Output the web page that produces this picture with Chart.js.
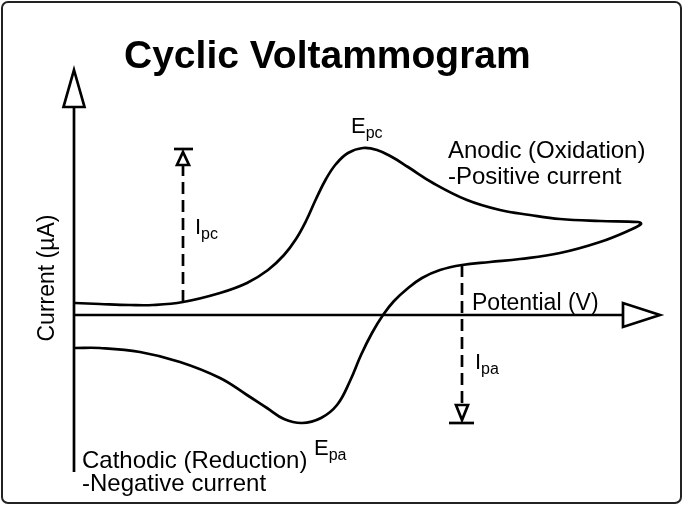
<!DOCTYPE html>
<html lang="en">
<head>
    <meta charset="UTF-8">
    <title>Cyclic Voltammogram</title>
    <style>
        body {
            margin: 0;
            padding: 0;
            background-color: #ffffff;
        }
        canvas {
            display: block;
        }
    </style>
    <script src="https://cdn.jsdelivr.net/npm/chart.js"></script>
</head>
<body>

<canvas id="cvChart" width="685" height="509"></canvas>

<script>
    // Potential (arbitrary units) and current (arbitrary units)
    // forward scan, left to right, then the return scan back to the start
    const potential = [0.1, 2.6, 5.6, 7.9, 10.9, 14.6, 17.3, 19.4, 21.0, 22.2, 23.2, 24.2, 25.2, 26.2, 27.4, 28.9, 30.3, 31.8, 33.4, 35.9, 39.3, 42.6, 45.6, 48.6, 52.6, 56.4, 56.7,
                       55.6, 52.6, 48.6, 44.6, 41.6, 38.8, 36.6, 34.8, 33.3, 32.0, 30.9, 29.8, 28.7, 27.6, 26.3, 24.7, 22.8, 21.0, 19.3, 17.3, 14.6, 10.6, 6.6, 2.6, 0.1];
    const current = [1.2, 1.1, 1.0, 1.0, 1.3, 2.2, 3.2, 4.5, 6.0, 7.6, 9.4, 11.6, 13.6, 15.1, 16.2, 16.7, 16.5, 15.8, 14.8, 13.2, 11.5, 10.5, 10.0, 9.6, 9.4, 9.3, 9.1,
                     8.5, 7.3, 6.2, 5.6, 5.3, 5.0, 4.5, 3.7, 2.6, 1.4, 0, -1.8, -4.0, -6.6, -9.0, -10.3, -10.8, -10.4, -9.3, -8.0, -6.3, -4.7, -3.7, -3.3, -3.3];

    // peak current markers: [potential, start current, end of dashed line]
    const ipcLine = [10.9, 1.3, 15.0];
    const ipaLine = [38.8, 5.0, -9.0];
    const ipcPeak = 16.6;
    const ipaPeak = -10.8;

    const xRange = [0, 58.6];
    const yRange = [-15.7, 24.5];

    const FONT = '"Liberation Sans", Arial, sans-serif';

    const points = potential.map((x, i) => ({ x: x, y: current[i] }));

    function text(ctx, str, x, y, size, weight) {
        ctx.font = (weight || 'normal') + ' ' + size + 'px ' + FONT;
        ctx.fillText(str, x, y);
    }

    function subLabel(ctx, main, sub, x, y) {
        text(ctx, main, x, y, 22);
        const w = ctx.measureText(main).width;
        text(ctx, sub, x + w, y + 5, 16);
    }

    // hollow triangle arrow head
    function arrowHead(ctx, tipX, tipY, baseX, baseY, half) {
        const dx = tipX - baseX, dy = tipY - baseY;
        const len = Math.hypot(dx, dy);
        const nx = -dy / len, ny = dx / len;
        ctx.beginPath();
        ctx.moveTo(tipX, tipY);
        ctx.lineTo(baseX + nx * half, baseY + ny * half);
        ctx.lineTo(baseX - nx * half, baseY - ny * half);
        ctx.closePath();
        ctx.fillStyle = '#fff';
        ctx.fill();
        ctx.stroke();
    }

    const decorPlugin = {
        id: 'decor',
        beforeDatasetsDraw(chart) {
            const ctx = chart.ctx;
            const area = chart.chartArea;
            const xs = chart.scales.x, ys = chart.scales.y;
            const x0 = xs.getPixelForValue(0);
            const y0 = ys.getPixelForValue(0);
            ctx.save();
            ctx.strokeStyle = '#000';
            ctx.lineWidth = 2.7;
            ctx.lineJoin = 'miter';
            // y axis
            ctx.beginPath();
            ctx.moveTo(x0, area.bottom);
            ctx.lineTo(x0, area.top + 37);
            ctx.stroke();
            arrowHead(ctx, x0, area.top, x0, area.top + 37, 10.5);
            // x axis
            ctx.beginPath();
            ctx.moveTo(x0, y0);
            ctx.lineTo(area.right - 37, y0);
            ctx.stroke();
            arrowHead(ctx, area.right, y0, area.right - 37, y0, 12);
            ctx.restore();
        },
        afterDatasetsDraw(chart) {
            const ctx = chart.ctx;
            const xs = chart.scales.x, ys = chart.scales.y;
            ctx.save();
            ctx.strokeStyle = '#000';
            ctx.lineWidth = 2.7;

            // Ipc arrow and cap
            let px = xs.getPixelForValue(ipcLine[0]);
            let capY = ys.getPixelForValue(ipcPeak);
            arrowHead(ctx, px, capY + 3, px, ys.getPixelForValue(ipcLine[2]), 6);
            ctx.beginPath();
            ctx.moveTo(px - 9, capY);
            ctx.lineTo(px + 10, capY);
            ctx.stroke();

            // Ipa arrow and cap
            px = xs.getPixelForValue(ipaLine[0]);
            capY = ys.getPixelForValue(ipaPeak);
            arrowHead(ctx, px, capY - 3, px, ys.getPixelForValue(ipaLine[2]), 6);
            ctx.beginPath();
            ctx.moveTo(px - 13, capY);
            ctx.lineTo(px + 12, capY);
            ctx.stroke();

            // texts
            ctx.fillStyle = '#000';
            ctx.textAlign = 'left';
            ctx.textBaseline = 'alphabetic';
            text(ctx, 'Cyclic Voltammogram', 124, 68, 39, 'bold');
            text(ctx, 'Anodic (Oxidation)', 448, 158, 24);
            text(ctx, '-Positive current', 448, 184, 24);
            text(ctx, 'Potential (V)', 472, 310, 23);
            text(ctx, 'Cathodic (Reduction)', 82, 468, 24);
            text(ctx, '-Negative current', 82, 491, 24);
            subLabel(ctx, 'E', 'pc', 351, 133);
            subLabel(ctx, 'E', 'pa', 314, 455);
            subLabel(ctx, 'I', 'pc', 195, 234);
            subLabel(ctx, 'I', 'pa', 475, 369);

            ctx.save();
            ctx.translate(48, 278);
            ctx.rotate(-Math.PI / 2);
            ctx.textAlign = 'center';
            ctx.textBaseline = 'middle';
            text(ctx, 'Current (\u00b5A)', 0, 0, 23);
            ctx.restore();

            // frame round the picture
            ctx.strokeStyle = '#222';
            ctx.lineWidth = 2;
            ctx.beginPath();
            ctx.roundRect(2, 2, 679, 501, 6);
            ctx.stroke();
            ctx.restore();
        }
    };

    const ctx = document.getElementById('cvChart').getContext('2d');
    const chart = new Chart(ctx, {
        type: 'scatter',
        data: {
            datasets: [{
                label: 'Voltammogram',
                data: points,
                showLine: true,
                borderColor: '#000',
                borderWidth: 2.7,
                pointRadius: 0,
                tension: 0.4,
                fill: false
            }, {
                label: 'Ipc',
                data: [{ x: ipcLine[0], y: ipcLine[1] }, { x: ipcLine[0], y: ipcLine[2] }],
                showLine: true,
                borderColor: '#000',
                borderWidth: 2.7,
                borderDash: [12, 6],
                pointRadius: 0
            }, {
                label: 'Ipa',
                data: [{ x: ipaLine[0], y: ipaLine[1] }, { x: ipaLine[0], y: ipaLine[2] }],
                showLine: true,
                borderColor: '#000',
                borderWidth: 2.7,
                borderDash: [12, 6],
                pointRadius: 0
            }]
        },
        options: {
            responsive: false,
            animation: false,
            layout: {
                padding: { left: 74, right: 25, top: 70, bottom: 37 }
            },
            plugins: {
                legend: { display: false },
                tooltip: { enabled: false }
            },
            scales: {
                x: { type: 'linear', min: xRange[0], max: xRange[1], display: false },
                y: { type: 'linear', min: yRange[0], max: yRange[1], display: false }
            }
        },
        plugins: [decorPlugin]
    });
</script>

</body>
</html>
